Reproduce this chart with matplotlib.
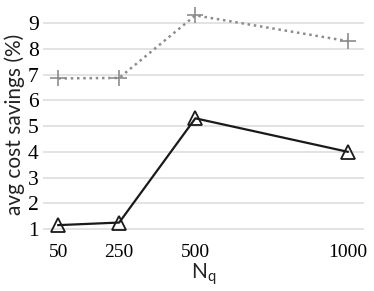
import matplotlib
matplotlib.use("Agg")
import matplotlib.pyplot as plt

nq = [50, 250, 500, 1000]
savings_plus = [6.85, 6.87, 9.3, 8.3]
savings_tri = [1.15, 1.25, 5.3, 4.0]
yticks = [1, 2, 3, 4, 5, 6, 7, 8, 9]

fig = plt.figure(figsize=(3.74, 2.91), dpi=100)
ax = fig.add_axes([0.115, 0.191, 0.857, 0.765])

ax.plot(nq, savings_plus, color="#8c8c8c", linestyle=(0, (1, 1.5)), linewidth=1.8,
        marker="+", markersize=11, markeredgewidth=1.2, clip_on=False)
ax.plot(nq, savings_tri, color="#1a1a1a", linestyle="-", linewidth=1.6,
        marker="^", markersize=10, markerfacecolor="none", markeredgewidth=1.3, clip_on=False)

ax.set_xlim(0, 1052)
ax.set_ylim(0.75, 9.4)
ax.set_xticks(nq)
ax.set_xticklabels([str(v) for v in nq], family="Liberation Serif", fontsize=14)
ax.set_yticks(yticks)
ax.set_yticklabels([str(v) for v in yticks], family="Liberation Serif", fontsize=15.5)
ax.tick_params(axis="y", length=0, pad=3)
ax.tick_params(axis="x", length=0, pad=6)
ax.grid(axis="y", color="#e0e0e0", linewidth=1.3)
ax.set_axisbelow(True)
for s in ax.spines.values():
    s.set_visible(False)

ax.set_ylabel("avg cost savings (%)", family="Lato", fontsize=15, color="#222222", labelpad=2)
ax.set_xlabel("N$_\\mathregular{q}$", family="Lato", fontsize=15, color="#222222", labelpad=0)

fig.savefig("out.png", dpi=100)
